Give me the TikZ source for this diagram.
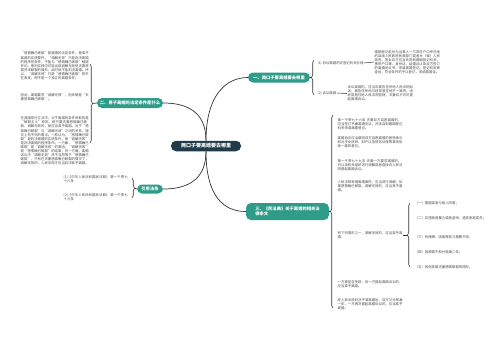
\documentclass[tikz,border=0pt]{standalone}
\usepackage{fontspec}
\setmainfont{Noto Sans CJK SC}
\usetikzlibrary{decorations.pathreplacing}
\XeTeXlinebreaklocale "zh"
\XeTeXlinebreakskip = 0pt plus 0.5pt
\definecolor{ctrfill}{HTML}{213C49}
\definecolor{teal}{HTML}{2E9C89}
\definecolor{linec}{HTML}{333333}
\definecolor{txtc}{HTML}{4A4A4A}
\tikzset{
  conn/.style={draw=linec, line width=0.7pt},
  bracec/.style={draw=linec, line width=0.6pt, decorate, decoration={brace, amplitude=2.5pt}},
  ctrnode/.style={fill=ctrfill, text=white, rounded corners=5pt, font=\fontsize{5}{6}\selectfont\bfseries, minimum width=70pt, minimum height=10.5pt, inner sep=1pt},
  brnode/.style={fill=teal, text=white, rounded corners=5pt, font=\fontsize{4.3}{5.3}\selectfont\bfseries, minimum height=10pt, inner sep=1pt},
  small/.style={font=\fontsize{3.4}{4.1}\selectfont, text=txtc, inner sep=0.5pt, anchor=west},
  para/.style={small, align=left, text width=#1},
}
\begin{document}
\begin{tikzpicture}[x=1pt,y=-1pt]
\useasboundingbox[fill=white] (0,0) rectangle (500,360);

% center
\node[ctrnode] (ctr) at (206,146) {两口子要离婚要去哪里};

% branches
\node[brnode, minimum width=62pt] (b1) at (279,77.5) {一、两口子要离婚要去哪里};
\node[brnode, minimum width=66pt] (b2) at (130,103) {二、男子离婚的法定条件是什么};
\node[brnode, minimum width=26pt, minimum height=9pt] (b4) at (150,189) {引用法条};
\node[brnode, minimum width=83pt, minimum height=17pt, align=left] (b3) at (287.5,211.5) {三、《民法典》关于离婚的相关法\\律条文};

% main connectors
\draw[conn] (ctr.north) .. controls +(0,-45) and +(-22,0) .. (b1.west);
\draw[conn] (ctr.north) .. controls +(0,-30) and +(22,0) .. (b2.east);
\draw[conn] (ctr.south) .. controls +(0,30) and +(22,0) .. (b4.east);
\draw[conn] (ctr.south) .. controls +(0,45) and +(-22,0) .. (b3.west);

% ---------- branch 1 ----------
\draw[bracec] (314,95) -- (314,60);
\coordinate (t1) at (311.5,77.5);
\draw[conn] (b1.east) -- (t1);
\node[small] (k1) at (317,63) {(1) 协议离婚的去登记机关办理};
\node[small] (k2) at (317,93) {(2) 诉讼离婚};
\node[para=66pt] (k1t) at (374,62) {婚姻登记机关为当事人一方常住户口所在地的县级人民政府民政部门或者乡（镇）人民政府。男女双方应当共同到婚姻登记机关，携带户口簿、身份证、结婚证以及双方签订的离婚协议书，申请离婚登记。登记机关审查后，符合条件的予以登记，发给离婚证。};
\node[para=66pt] (k2t) at (347,93.5) {诉讼离婚的，应当向被告住所地人民法院起诉；被告住所地与经常居住地不一致的，由经常居住地人民法院管辖，夫妻双方均可提起离婚诉讼。};
\draw[conn, line width=0.5pt] (k1.east) -- (k1t.west);
\draw[conn, line width=0.5pt] (k2.east) -- (k2t.west);

% ---------- branch 2 ----------
\draw[bracec] (90,64) -- (90,143);
\coordinate (t2) at (92.5,103.5);
\draw[conn] (b2.west) -- (t2);
\node[para=68pt] (p1) at (20,66) {“感情确已破裂”是离婚的法定条件，是准予离婚的实质要件；“调解无效”只是判决离婚的程序性条件，不能与“感情确已破裂”相提并论。审判实践中可能出现调解无效但夫妻感情并未破裂的情形，此时就不能判决离婚。所以，“调解无效”只是“感情确已破裂”的外在表现，而不是一个独立的离婚条件。};
\node[para=68pt] (p2) at (20,97.5) {因此，离婚要求“调解无效”，但关键是“夫妻感情确已破裂”。};
\node[para=68pt] (p3) at (20,141) {在我国现行立法中，对于离婚的条件采取的是“破裂主义”原则，即只要夫妻感情确已破裂，调解无效的，就应当准予离婚。对于“感情确已破裂”与“调解无效”之间的关系，理论上有不同的看法。一般认为，“感情确已破裂”是判决离婚的实质条件，而“调解无效”是判决离婚的程序条件。一方面，“感情确已破裂”是“调解无效”的原因，“调解无效”是“感情确已破裂”的结果；另一方面，离婚诉讼中“调解无效”并不当然等于“感情确已破裂”，只有在夫妻感情确已破裂的情况下，调解无效的，人民法院才应当判决准予离婚。};

% ---------- branch 4 (引用法条) ----------
\draw[bracec] (132,178) -- (132,198);
\coordinate (t4) at (134.5,188);
\draw[conn] (b4.west) -- (t4);
\node[para=65pt] (r1) at (63,179) {[1]《中华人民共和国民法典》 第一千零七十六条};
\node[para=65pt] (r2) at (63,197) {[2]《中华人民共和国民法典》 第一千零七十九条};

% ---------- branch 3 ----------
\draw[bracec] (333,308) -- (333,115);
\coordinate (t3) at (330.5,211.5);
\draw[conn] (b3.east) -- (t3);
\node[para=65pt] (c1) at (337,124) {第一千零七十六条 夫妻双方自愿离婚的，应当签订书面离婚协议，并亲自到婚姻登记机关申请离婚登记。};
\node[para=65pt] (c2) at (337,142) {离婚协议应当载明双方自愿离婚的意思表示和对子女抚养、财产以及债务处理等事项协商一致的意见。};
\node[para=65pt] (c3) at (337,165) {第一千零七十九条 夫妻一方要求离婚的，可以由有关组织进行调解或者直接向人民法院提起离婚诉讼。};
\node[para=65pt] (c4) at (337,186) {人民法院审理离婚案件，应当进行调解；如果感情确已破裂，调解无效的，应当准予离婚。};
\node[para=65pt] (c5) at (337,235) {有下列情形之一，调解无效的，应当准予离婚：};
\node[para=65pt] (c6) at (337,284) {一方被宣告失踪，另一方提起离婚诉讼的，应当准予离婚。};
\node[para=65pt] (c7) at (337,304) {经人民法院判决不准离婚后，双方又分居满一年，一方再次提起离婚诉讼的，应当准予离婚。};

% sub list
\draw[bracec] (410,267) -- (410,203);
\coordinate (t5) at (407.5,235);
\draw[conn, line width=0.5pt] (c5.east) -- (t5);
\node[small] (s1) at (414,203) {（一）重婚或者与他人同居；};
\node[small] (s2) at (414,218) {（二）实施家庭暴力或者虐待、遗弃家庭成员；};
\node[small] (s3) at (414,237) {（三）有赌博、吸毒等恶习屡教不改；};
\node[small] (s4) at (414,252) {（四）因感情不和分居满二年；};
\node[small] (s5) at (414,267) {（五）其他导致夫妻感情破裂的情形。};
\end{tikzpicture}
\end{document}
